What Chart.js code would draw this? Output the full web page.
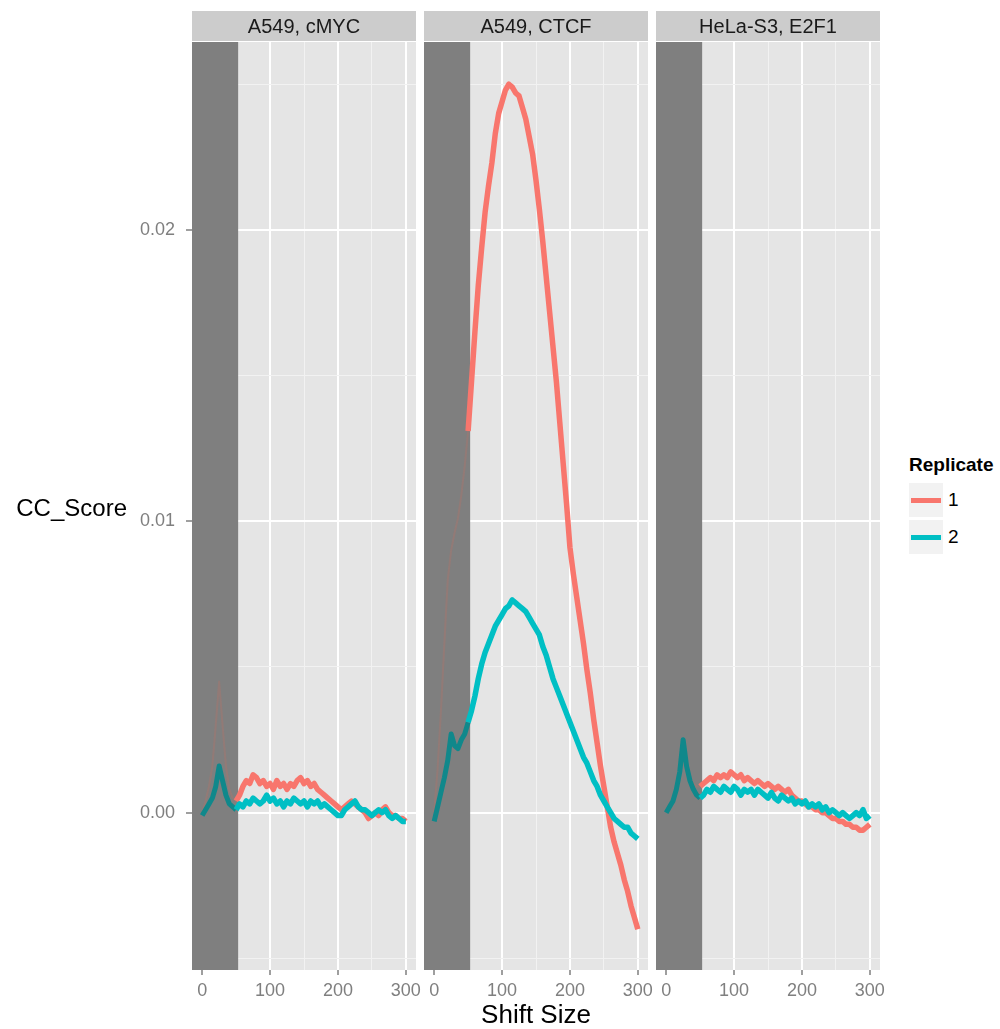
<!DOCTYPE html>
<html>
<head>
<meta charset="utf-8">
<script src="https://cdn.jsdelivr.net/npm/chart.js@4.4.1/dist/chart.umd.min.js"></script>
<style>
  html, body { margin: 0; padding: 0; background: #ffffff; }
  #wrap { position: relative; width: 1000px; height: 1029px; overflow: hidden; background: #fff;
          font-family: "Liberation Sans", Arial, Helvetica, sans-serif; }
  canvas { position: absolute; top: 0; }
  .txt { position: absolute; white-space: nowrap; color: #000; }
</style>
</head>
<body>
<div id="wrap">
  <canvas id="p1" width="336" height="1000" style="left:100px"></canvas>
  <canvas id="p2" width="264" height="1000" style="left:404px"></canvas>
  <canvas id="p3" width="264" height="1000" style="left:636px"></canvas>
  <div class="txt" id="ytitle" style="right:873px; top:494px; font-size:24px; line-height:28px;">CC_Score</div>
  <div class="txt" id="xtitle" style="left:536px; top:999px; font-size:26px; line-height:30px; transform:translateX(-50%);">Shift Size</div>
  <div class="txt" style="left:909px; top:453px; font-size:19px; font-weight:bold; line-height:24px;">Replicate</div>
  <div style="position:absolute; left:909px; top:483px; width:34px; height:34px; background:#f2f2f2;"></div>
  <div style="position:absolute; left:911px; top:498px; width:30px; height:5px; background:#F8766D;"></div>
  <div class="txt" style="left:948px; top:488px; font-size:19px; line-height:24px;">1</div>
  <div style="position:absolute; left:909px; top:520px; width:34px; height:34px; background:#f2f2f2;"></div>
  <div style="position:absolute; left:911px; top:535px; width:30px; height:5px; background:#00BFC4;"></div>
  <div class="txt" style="left:948px; top:525px; font-size:19px; line-height:24px;">2</div>
</div>
<script>
// ---------------- data ----------------
const facetLabels = ['A549, cMYC', 'A549, CTCF', 'HeLa-S3, E2F1'];
const replicateLabels = ['1', '2'];
const shiftSize = [0,5,10,15,20,25,30,35,40,45,50,55,60,65,70,75,80,85,90,95,100,
  105,110,115,120,125,130,135,140,145,150,155,160,165,170,175,180,185,190,195,200,
  205,210,215,220,225,230,235,240,245,250,255,260,265,270,275,280,285,290,295,300];

const cMYC_rep1 = [0.0000,0.0004,0.0009,0.0016,0.0030,0.0045,0.0030,0.0016,0.0008,0.0005,0.0004,
  0.0006,0.0009,0.0011,0.0010,0.0013,0.0012,0.0010,0.0011,0.0009,0.0010,
  0.0008,0.0011,0.0009,0.0010,0.0008,0.0010,0.0009,0.0011,0.0012,0.0010,
  0.0011,0.0009,0.0010,0.0008,0.0007,0.0006,0.0005,0.0004,0.0003,0.0002,
  0.0001,0.0002,0.0003,0.0004,0.0003,0.0002,0.0001,0.0000,-0.0002,-0.0001,
  0.0000,-0.0001,0.0001,0.0002,0.0000,-0.0001,-0.0001,-0.0002,-0.0002,-0.0003];
const cMYC_rep2 = [-0.0001,0.0001,0.0003,0.0005,0.0009,0.0016,0.0011,0.0006,0.0003,0.0002,0.0001,
  0.0003,0.0002,0.0004,0.0003,0.0005,0.0004,0.0003,0.0004,0.0006,0.0004,
  0.0005,0.0003,0.0004,0.0002,0.0004,0.0003,0.0005,0.0004,0.0003,0.0004,
  0.0002,0.0004,0.0003,0.0004,0.0002,0.0003,0.0002,0.0001,0.0000,-0.0001,
  -0.0001,0.0001,0.0002,0.0003,0.0004,0.0002,0.0001,0.0001,0.0000,-0.0001,
  0.0000,0.0001,0.0000,0.0001,-0.0001,-0.0002,-0.0001,-0.0002,-0.0003,-0.0003];
const CTCF_rep1 = [0.0000,0.0015,0.0035,0.0058,0.0080,0.0090,0.0096,0.0101,0.0109,0.0119,0.0131,
  0.0148,0.0165,0.0181,0.0194,0.0206,0.0215,0.0223,0.0233,0.0240,0.0244,
  0.0248,0.0250,0.0249,0.0247,0.0246,0.0242,0.0238,0.0232,0.0226,0.0217,
  0.0207,0.0196,0.0184,0.0172,0.0160,0.0148,0.0134,0.0120,0.0106,0.0091,
  0.0082,0.0074,0.0066,0.0058,0.0049,0.0041,0.0032,0.0024,0.0016,0.0009,
  0.0002,-0.0005,-0.0010,-0.0014,-0.0018,-0.0023,-0.0027,-0.0032,-0.0036,-0.0040];
const CTCF_rep2 = [-0.0003,0.0002,0.0007,0.0012,0.0018,0.0027,0.0023,0.0022,0.0025,0.0027,0.0031,
  0.0035,0.0040,0.0046,0.0051,0.0055,0.0058,0.0061,0.0064,0.0066,0.0068,
  0.0070,0.0071,0.0073,0.0072,0.0071,0.0070,0.0069,0.0067,0.0065,0.0063,
  0.0061,0.0057,0.0054,0.0050,0.0046,0.0043,0.0040,0.0037,0.0034,0.0031,
  0.0028,0.0025,0.0022,0.0019,0.0017,0.0014,0.0011,0.0009,0.0006,0.0004,
  0.0002,0.0000,-0.0002,-0.0003,-0.0004,-0.0005,-0.0005,-0.0007,-0.0008,-0.0009];
const E2F1_rep1 = [0.0001,0.0003,0.0005,0.0009,0.0015,0.0024,0.0017,0.0012,0.0010,0.0009,0.0009,
  0.0010,0.0011,0.0012,0.0011,0.0013,0.0012,0.0013,0.0012,0.0014,0.0013,
  0.0012,0.0013,0.0011,0.0012,0.0011,0.0010,0.0011,0.0010,0.0009,0.0010,
  0.0009,0.0008,0.0009,0.0008,0.0007,0.0008,0.0006,0.0005,0.0004,0.0004,
  0.0003,0.0002,0.0002,0.0001,0.0001,0.0000,0.0000,-0.0001,-0.0002,-0.0002,
  -0.0003,-0.0003,-0.0004,-0.0004,-0.0005,-0.0005,-0.0006,-0.0006,-0.0005,-0.0004];
const E2F1_rep2 = [0.0000,0.0002,0.0004,0.0008,0.0014,0.0025,0.0016,0.0011,0.0008,0.0006,0.0005,
  0.0006,0.0008,0.0007,0.0009,0.0008,0.0007,0.0009,0.0008,0.0007,0.0009,
  0.0008,0.0006,0.0008,0.0007,0.0008,0.0006,0.0008,0.0007,0.0006,0.0005,
  0.0007,0.0005,0.0004,0.0006,0.0005,0.0004,0.0005,0.0003,0.0004,0.0003,
  0.0004,0.0002,0.0003,0.0002,0.0003,0.0001,0.0002,0.0000,0.0001,0.0000,
  -0.0001,0.0000,-0.0001,-0.0002,-0.0001,0.0000,-0.0001,0.0001,-0.0002,-0.0001];

const xMajorTicks = [0, 100, 200, 300];
const xMinorTicks = [50, 150, 250];
const yMajorTicks = [0, 0.01, 0.02];
const yMinorTicks = [-0.005, 0.005, 0.015, 0.025];
const yTickLabels = ['0.00', '0.01', '0.02'];
const shadeEnd = 53;   // shaded (excluded) shift range ends here

const panelSeries = [[cMYC_rep1, cMYC_rep2], [CTCF_rep1, CTCF_rep2], [E2F1_rep1, E2F1_rep2]];

// ---------------- styling ----------------
const FONT = '"Liberation Sans", Arial, Helvetica, sans-serif';
const repColors = ['#F8766D', '#00BFC4'];
const repShadeColors = ['rgba(170,118,108,0.45)', '#10888b'];
const repShadeWidths = [2, 5];

const panelPlugin = {
  id: 'ggpanel',
  beforeDraw(chart) {
    const a = chart.chartArea, c = chart.ctx;
    c.save();
    c.fillStyle = '#e5e5e5';
    c.fillRect(a.left, a.top, a.right - a.left, a.bottom - a.top);
    c.fillStyle = '#cccccc';
    c.fillRect(a.left, 11, a.right - a.left, 30);
    c.fillStyle = '#1a1a1a';
    c.font = '20px ' + FONT;
    c.textAlign = 'center';
    c.textBaseline = 'middle';
    c.fillText(chart.options.plugins.ggpanel.label, (a.left + a.right) / 2, 27);
    c.restore();
  },
  beforeDatasetsDraw(chart) {
    const a = chart.chartArea, c = chart.ctx;
    const x1 = chart.scales.x.getPixelForValue(shadeEnd);
    c.save();
    c.fillStyle = '#7f7f7f';
    c.fillRect(a.left, a.top, x1 - a.left, a.bottom - a.top);
    c.restore();
  }
};

function makePanel(id, idx, showY) {
  const series = panelSeries[idx];
  const datasets = series.map((vals, r) => ({
    label: replicateLabels[r],
    data: shiftSize.map((s, i) => ({ x: s, y: vals[i] })),
    borderColor: repColors[r],
    borderWidth: 5.5,
    pointRadius: 0,
    tension: 0,
    borderJoinStyle: 'round',
    order: 2 - r,
    segment: {
      borderColor: c => (c.p1.parsed.x <= shadeEnd ? repShadeColors[r] : undefined),
      borderWidth: c => (c.p1.parsed.x <= shadeEnd ? repShadeWidths[r] : undefined)
    }
  }));
  const isMajorX = v => xMajorTicks.includes(v);
  const isMajorY = v => yMajorTicks.some(t => Math.abs(t - v) < 1e-9);
  return new Chart(document.getElementById(id), {
    type: 'line',
    data: { datasets },
    plugins: [panelPlugin],
    options: {
      responsive: false,
      animation: false,
      events: [],
      layout: { padding: { left: showY ? 0 : 20, right: 20, top: 42, bottom: 0 } },
      plugins: {
        legend: { display: false },
        tooltip: { enabled: false },
        ggpanel: { label: facetLabels[idx] }
      },
      scales: {
        x: {
          type: 'linear',
          min: -15, max: 315,
          afterBuildTicks: s => { s.ticks = xMajorTicks.concat(xMinorTicks).sort((a, b) => a - b).map(v => ({ value: v })); },
          afterFit: s => { s.height = 30; },
          border: { display: false },
          grid: {
            drawOnChartArea: true,
            drawTicks: true,
            tickLength: 5,
            color: c => (isMajorX(c.tick.value) ? '#ffffff' : '#f2f2f2'),
            lineWidth: c => (isMajorX(c.tick.value) ? 2 : 1),
            tickColor: c => (isMajorX(c.tick.value) ? '#7f7f7f' : 'rgba(0,0,0,0)'),
            tickWidth: 1.5
          },
          ticks: {
            autoSkip: false, maxRotation: 0, minRotation: 0,
            padding: 5,
            color: '#7f7f7f',
            font: { family: FONT, size: 18 },
            callback: v => (isMajorX(v) ? String(v) : '')
          }
        },
        y: {
          type: 'linear',
          min: -0.0054, max: 0.02645,
          afterBuildTicks: s => { s.ticks = yMajorTicks.concat(yMinorTicks).sort((a, b) => a - b).map(v => ({ value: v })); },
          afterFit: s => { s.width = showY ? 92 : 0; },
          border: { display: false },
          grid: {
            drawOnChartArea: true,
            drawTicks: showY,
            tickLength: 6,
            color: c => (isMajorY(c.tick.value) ? '#ffffff' : '#f2f2f2'),
            lineWidth: c => (isMajorY(c.tick.value) ? 2 : 1),
            tickColor: c => (isMajorY(c.tick.value) ? '#7f7f7f' : 'rgba(0,0,0,0)'),
            tickWidth: 1.5
          },
          ticks: {
            display: showY,
            autoSkip: false,
            padding: 11,
            color: '#7f7f7f',
            font: { family: FONT, size: 18 },
            callback: v => {
              const k = yMajorTicks.findIndex(t => Math.abs(t - v) < 1e-9);
              return k >= 0 ? yTickLabels[k] : '';
            }
          }
        }
      }
    }
  });
}

makePanel('p1', 0, true);
makePanel('p2', 1, false);
makePanel('p3', 2, false);
</script>
</body>
</html>
